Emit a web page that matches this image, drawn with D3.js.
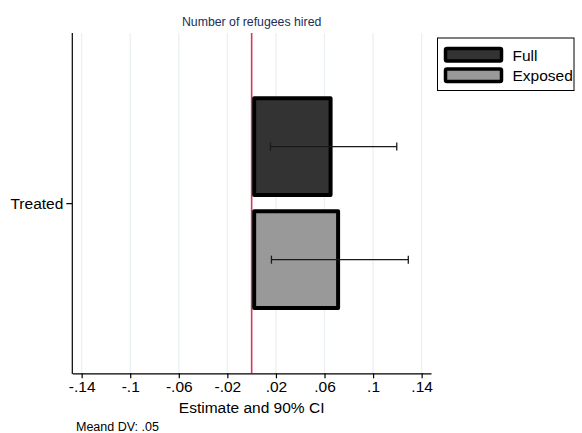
<!DOCTYPE html>
<html><head><meta charset="utf-8">
<script src="https://cdn.jsdelivr.net/npm/d3@7"></script>
<style>body{margin:0;background:#fff}svg{display:block;font-family:"Liberation Sans",Arial,Helvetica,sans-serif}</style>
</head><body><svg id="c" width="582" height="433"></svg>
<script>
const categories = ["Full", "Exposed"];
const estimates = [0.065, 0.0712];
const ciLow = [0.0155, 0.0163];
const ciHigh = [0.1195, 0.129];
const fills = ["#333333", "#999999"];
const tickValues = [-0.14, -0.1, -0.06, -0.02, 0.02, 0.06, 0.1, 0.14];
const tickLabels = ["-.14", "-.1", "-.06", "-.02", ".02", ".06", ".1", ".14"];
const groupLabel = "Treated";
const title = "Number of refugees hired";
const xTitle = "Estimate and 90% CI";
const note = "Meand DV: .05";

const svg = d3.select("#c");
const L = 72.3, R = 431, T = 33, B = 373.3;
const x = d3.scaleLinear().domain([-0.1477, 0.1477]).range([L, R]);
const y = d3.scaleBand().domain(categories).range([T, B]).paddingInner(0.145).paddingOuter(0.577);

// gridlines
svg.append("g").selectAll("line").data(tickValues).join("line")
  .attr("x1", d => x(d)).attr("x2", d => x(d)).attr("y1", T).attr("y2", B)
  .attr("stroke", "#eaf0f3").attr("stroke-width", 1.3);

// title
svg.append("text").attr("x", x(0)).attr("y", 26).attr("text-anchor", "middle")
  .attr("font-size", 12.3).attr("fill", "#1c2d59").text(title);

// zero line
svg.append("line").attr("x1", x(0)).attr("x2", x(0)).attr("y1", T).attr("y2", B)
  .attr("stroke", "#d6365f").attr("stroke-width", 1.6);

// bars
const sw = 4;
svg.append("g").selectAll("rect").data(categories).join("rect")
  .attr("x", (d, i) => x(0) + sw / 2 + 0.5)
  .attr("width", (d, i) => x(estimates[i]) - x(0) - sw / 2 - 0.5)
  .attr("y", d => y(d)).attr("height", y.bandwidth())
  .attr("fill", (d, i) => fills[i]).attr("stroke", "#000").attr("stroke-width", sw)
  .attr("stroke-linejoin", "round");

// CIs
const ci = svg.append("g").attr("stroke", "#1a1a1a").attr("stroke-width", 1.3);
categories.forEach((c, i) => {
  const cy = y(c) + y.bandwidth() / 2;
  ci.append("line").attr("x1", x(ciLow[i])).attr("x2", x(ciHigh[i])).attr("y1", cy).attr("y2", cy);
  [ciLow[i], ciHigh[i]].forEach(v => ci.append("line").attr("x1", x(v)).attr("x2", x(v))
    .attr("y1", cy - 4).attr("y2", cy + 4));
});

// axes
const xa = svg.append("g").attr("transform", `translate(0,${B})`)
  .call(d3.axisBottom(x).tickValues(tickValues).tickFormat((d, i) => tickLabels[i]).tickSize(5).tickPadding(3).tickSizeOuter(0));
xa.select(".domain").attr("stroke", "#000").attr("stroke-width", 1.2);
xa.selectAll(".tick line").attr("stroke", "#000").attr("stroke-width", 1.2);
xa.selectAll(".tick text").attr("font-size", 15.5).attr("fill", "#000").attr("font-family", "Liberation Sans, Arial, sans-serif");

svg.append("line").attr("x1", L).attr("x2", L).attr("y1", T).attr("y2", B + 0.6)
  .attr("stroke", "#000").attr("stroke-width", 1.2);
const ty = (T + B) / 2 + 0.5;
svg.append("line").attr("x1", L - 6).attr("x2", L).attr("y1", ty).attr("y2", ty)
  .attr("stroke", "#000").attr("stroke-width", 1.2);
svg.append("text").attr("x", L - 9).attr("y", ty + 5.5).attr("text-anchor", "end")
  .attr("font-size", 15.5).attr("fill", "#000").text(groupLabel);

svg.append("text").attr("x", x(0)).attr("y", 413).attr("text-anchor", "middle")
  .attr("font-size", 15.5).attr("fill", "#000").text(xTitle);
svg.append("text").attr("x", 76).attr("y", 431).attr("font-size", 12.5).attr("fill", "#000").text(note);

// legend
const lg = svg.append("g");
lg.append("rect").attr("x", 437.5).attr("y", 38).attr("width", 136.5).attr("height", 52.5)
  .attr("fill", "#fff").attr("stroke", "#000").attr("stroke-width", 1);
categories.forEach((c, i) => {
  const yy = 48.5 + i * 20.5;
  lg.append("rect").attr("x", 445.5).attr("y", yy).attr("width", 56).attr("height", 12.5)
    .attr("rx", 1.5).attr("fill", fills[i]).attr("stroke", "#000").attr("stroke-width", 3.5);
  lg.append("text").attr("x", 512.5).attr("y", yy + 12).attr("font-size", 15.5).attr("fill", "#000").text(c);
});
</script></body></html>
